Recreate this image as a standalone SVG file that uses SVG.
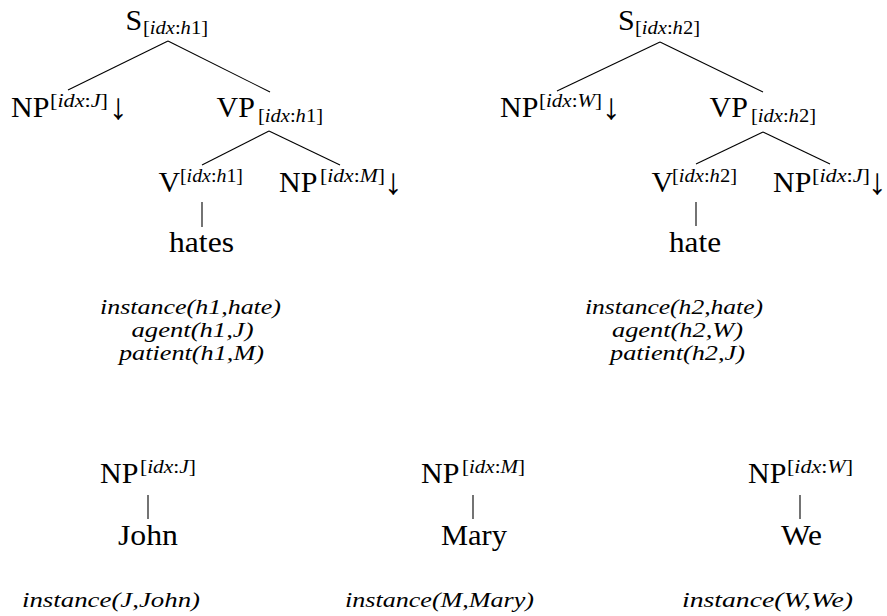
<svg xmlns="http://www.w3.org/2000/svg" width="887" height="616" viewBox="0 0 887 616">
<style>
text{fill:#000;font-family:'Liberation Serif','Times New Roman',serif}
.lbl{font-size:30px}
.idx{font-size:18px}
.it{font-style:italic}
.sem{font-style:italic;font-size:21px}
.arr{font-size:37px}
.edge{stroke:#000;stroke-width:1.1;fill:none}
</style>
<rect width="887" height="616" fill="#fff"/>
<g id="connectors">
<line class="edge" x1="168" y1="41" x2="68" y2="90"/>
<line class="edge" x1="168" y1="41" x2="270" y2="92"/>
<line class="edge" x1="269" y1="131" x2="202" y2="165"/>
<line class="edge" x1="269" y1="131" x2="340" y2="165"/>
<line class="edge" x1="202" y1="202" x2="202" y2="227"/>
<line class="edge" x1="660" y1="42" x2="557" y2="91"/>
<line class="edge" x1="660" y1="42" x2="763" y2="92"/>
<line class="edge" x1="763" y1="132" x2="696" y2="164"/>
<line class="edge" x1="763" y1="132" x2="830" y2="164"/>
<line class="edge" x1="696" y1="202" x2="696" y2="226"/>
<line class="edge" x1="148" y1="495" x2="148" y2="519"/>
<line class="edge" x1="473" y1="495" x2="473" y2="519"/>
<line class="edge" x1="800" y1="495" x2="800" y2="519"/>
</g>
<g id="t1-S">
<text class="lbl" x="125.5" y="30">S</text>
<text class="idx" x="143" y="34" textLength="65" lengthAdjust="spacingAndGlyphs">[<tspan class="it">idx</tspan>:<tspan class="it">h</tspan>1]</text>
</g>
<g id="t1-NP-subj">
<text class="lbl" x="11" y="117">NP</text>
<text class="idx" x="50" y="107" textLength="58" lengthAdjust="spacingAndGlyphs">[<tspan class="it">idx</tspan>:<tspan class="it">J</tspan>]</text>
<text class="arr" x="109" y="119">↓</text>
</g>
<g id="t1-VP">
<text class="lbl" x="216.5" y="117">VP</text>
<text class="idx" x="258" y="122" textLength="65" lengthAdjust="spacingAndGlyphs">[<tspan class="it">idx</tspan>:<tspan class="it">h</tspan>1]</text>
</g>
<g id="t1-V">
<text class="lbl" x="158.5" y="192">V</text>
<text class="idx" x="180" y="182" textLength="63" lengthAdjust="spacingAndGlyphs">[<tspan class="it">idx</tspan>:<tspan class="it">h</tspan>1]</text>
</g>
<g id="t1-NP-obj">
<text class="lbl" x="279" y="192">NP</text>
<text class="idx" x="320" y="182" textLength="65" lengthAdjust="spacingAndGlyphs">[<tspan class="it">idx</tspan>:<tspan class="it">M</tspan>]</text>
<text class="arr" x="384" y="194">↓</text>
</g>
<g id="t1-hates">
<text class="lbl" x="169" y="252" textLength="65" lengthAdjust="spacingAndGlyphs">hates</text>
</g>
<g id="t1-sem">
<text class="sem" x="100" y="314" textLength="181" lengthAdjust="spacingAndGlyphs">instance(h1,hate)</text>
<text class="sem" x="131.5" y="337" textLength="122" lengthAdjust="spacingAndGlyphs">agent(h1,J)</text>
<text class="sem" x="119" y="360" textLength="145" lengthAdjust="spacingAndGlyphs">patient(h1,M)</text>
</g>
<g id="t2-S">
<text class="lbl" x="618" y="30">S</text>
<text class="idx" x="635" y="34" textLength="65" lengthAdjust="spacingAndGlyphs">[<tspan class="it">idx</tspan>:<tspan class="it">h</tspan>2]</text>
</g>
<g id="t2-NP-subj">
<text class="lbl" x="500" y="117">NP</text>
<text class="idx" x="539" y="107" textLength="63" lengthAdjust="spacingAndGlyphs">[<tspan class="it">idx</tspan>:<tspan class="it">W</tspan>]</text>
<text class="arr" x="602" y="119">↓</text>
</g>
<g id="t2-VP">
<text class="lbl" x="709.5" y="117">VP</text>
<text class="idx" x="751" y="122" textLength="65" lengthAdjust="spacingAndGlyphs">[<tspan class="it">idx</tspan>:<tspan class="it">h</tspan>2]</text>
</g>
<g id="t2-V">
<text class="lbl" x="651.5" y="192">V</text>
<text class="idx" x="672" y="182" textLength="65" lengthAdjust="spacingAndGlyphs">[<tspan class="it">idx</tspan>:<tspan class="it">h</tspan>2]</text>
</g>
<g id="t2-NP-obj">
<text class="lbl" x="773" y="192">NP</text>
<text class="idx" x="812" y="182" textLength="58" lengthAdjust="spacingAndGlyphs">[<tspan class="it">idx</tspan>:<tspan class="it">J</tspan>]</text>
<text class="arr" x="868" y="194">↓</text>
</g>
<g id="t2-hate">
<text class="lbl" x="669" y="252" textLength="52" lengthAdjust="spacingAndGlyphs">hate</text>
</g>
<g id="t2-sem">
<text class="sem" x="585" y="314" textLength="178" lengthAdjust="spacingAndGlyphs">instance(h2,hate)</text>
<text class="sem" x="612" y="337" textLength="131" lengthAdjust="spacingAndGlyphs">agent(h2,W)</text>
<text class="sem" x="610" y="360" textLength="135" lengthAdjust="spacingAndGlyphs">patient(h2,J)</text>
</g>
<g id="np-john">
<text class="lbl" x="100" y="483">NP</text>
<text class="idx" x="140" y="473" textLength="56" lengthAdjust="spacingAndGlyphs">[<tspan class="it">idx</tspan>:<tspan class="it">J</tspan>]</text>
<text class="lbl" x="118" y="545" textLength="60" lengthAdjust="spacingAndGlyphs">John</text>
<text class="sem" x="22" y="607" textLength="178" lengthAdjust="spacingAndGlyphs">instance(J,John)</text>
</g>
<g id="np-mary">
<text class="lbl" x="421" y="483">NP</text>
<text class="idx" x="462" y="473" textLength="63" lengthAdjust="spacingAndGlyphs">[<tspan class="it">idx</tspan>:<tspan class="it">M</tspan>]</text>
<text class="lbl" x="441" y="545" textLength="66" lengthAdjust="spacingAndGlyphs">Mary</text>
<text class="sem" x="345" y="607" textLength="189" lengthAdjust="spacingAndGlyphs">instance(M,Mary)</text>
</g>
<g id="np-we">
<text class="lbl" x="748" y="483">NP</text>
<text class="idx" x="787" y="473" textLength="66" lengthAdjust="spacingAndGlyphs">[<tspan class="it">idx</tspan>:<tspan class="it">W</tspan>]</text>
<text class="lbl" x="781" y="545" textLength="41" lengthAdjust="spacingAndGlyphs">We</text>
<text class="sem" x="682" y="607" textLength="171" lengthAdjust="spacingAndGlyphs">instance(W,We)</text>
</g>
</svg>
